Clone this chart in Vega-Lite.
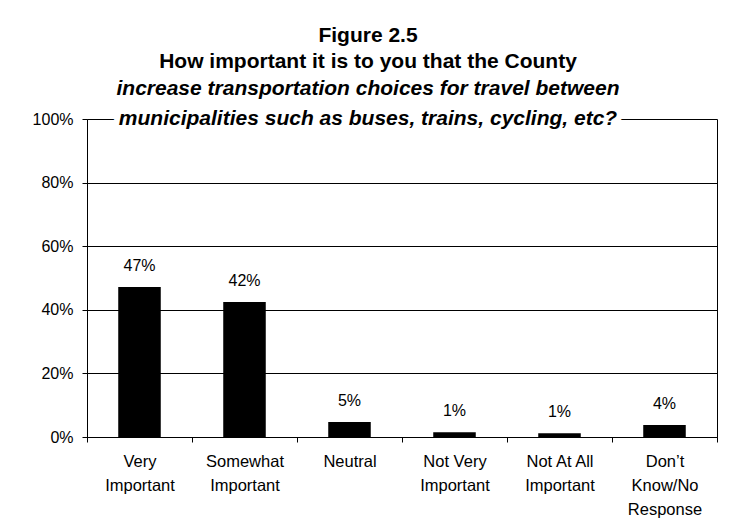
{
  "$schema": "https://vega.github.io/schema/vega-lite/v6.json",
  "width": 630,
  "height": 318,
  "autosize": {"type": "none"},
  "padding": {"left": 87, "top": 119, "right": 16, "bottom": 90},
  "background": "white",
  "title": {
    "text": ["Figure 2.5", "How important it is to you that the County"],
    "subtitle": "increase transportation choices for travel between",
    "anchor": "middle",
    "frame": "group",
    "dx": -34,
    "offset": 9,
    "font": "Liberation Sans",
    "fontSize": 21,
    "fontWeight": "bold",
    "color": "black",
    "lineHeight": 26.5,
    "subtitleFont": "Liberation Sans",
    "subtitleFontSize": 21,
    "subtitleFontStyle": "italic",
    "subtitleFontWeight": "bold",
    "subtitleColor": "black",
    "subtitleLineHeight": 26.5,
    "subtitlePadding": 6
  },
  "config": {
    "view": {"stroke": "black", "strokeWidth": 1},
    "font": "Liberation Sans"
  },
  "layer": [
    {
      "data": {"values": [
        {"category": "Very Important", "value": 0.472},
        {"category": "Somewhat Important", "value": 0.4249},
        {"category": "Neutral", "value": 0.047},
        {"category": "Not Very Important", "value": 0.0149},
        {"category": "Not At All Important", "value": 0.012},
        {"category": "Don't Know/No Response", "value": 0.038}
      ]},
      "layer": [
        {
          "mark": {"type": "bar", "color": "black", "width": {"band": 0.405}},
          "encoding": {
            "x": {
              "field": "category", "type": "nominal", "sort": null,
              "scale": {"paddingInner": 0, "paddingOuter": 0},
              "axis": {
                "title": null, "labelAngle": 0, "tickBand": "extent",
                "tickSize": 5, "tickColor": "black", "domainColor": "black",
                "labelFont": "Liberation Sans", "labelFontSize": 16.5, "labelColor": "black",
                "labelLineHeight": 24, "labelPadding": 11, "labelBaseline": "top",
                "labelExpr": "{'Very Important': ['Very', 'Important'], 'Somewhat Important': ['Somewhat', 'Important'], 'Neutral': ['Neutral'], 'Not Very Important': ['Not Very', 'Important'], 'Not At All Important': ['Not At All', 'Important'], \"Don't Know/No Response\": ['Don\u2019t', 'Know/No', 'Response']}[datum.label]"
              }
            },
            "y": {
              "field": "value", "type": "quantitative",
              "scale": {"domain": [0, 1], "nice": false},
              "axis": {
                "title": null, "values": [0, 0.2, 0.4, 0.6, 0.8, 1], "format": ".0%",
                "grid": true, "gridColor": "black",
                "gridOpacity": {"condition": {"test": "datum.value >= 1", "value": 0}, "value": 1},
                "tickSize": 5, "tickColor": "black", "domainColor": "black",
                "labelFont": "Liberation Sans", "labelFontSize": 16, "labelColor": "black",
                "labelPadding": 9
              }
            }
          }
        },
        {
          "mark": {"type": "text", "font": "Liberation Sans", "fontSize": 16, "color": "black", "baseline": "alphabetic", "dy": -16},
          "encoding": {
            "x": {"field": "category", "type": "nominal", "sort": null},
            "y": {"field": "value", "type": "quantitative"},
            "text": {"field": "value", "type": "quantitative", "format": ".0%"}
          }
        }
      ]
    },
    {
      "data": {"values": [{"line": "municipalities such as buses, trains, cycling, etc?"}]},
      "layer": [
        {
          "mark": {"type": "text", "font": "Liberation Sans", "fontSize": 21, "fontWeight": "bold", "fontStyle": "italic", "fill": "white", "stroke": "white", "strokeWidth": 12, "strokeJoin": "round", "baseline": "alphabetic", "dy": 6, "dx": -34},
          "encoding": {
            "y": {"datum": 1, "type": "quantitative"},
            "text": {"field": "line", "type": "nominal"}
          }
        },
        {
          "mark": {"type": "text", "font": "Liberation Sans", "fontSize": 21, "fontWeight": "bold", "fontStyle": "italic", "fill": "black", "baseline": "alphabetic", "dy": 6, "dx": -34},
          "encoding": {
            "y": {"datum": 1, "type": "quantitative"},
            "text": {"field": "line", "type": "nominal"}
          }
        }
      ]
    }
  ]
}
